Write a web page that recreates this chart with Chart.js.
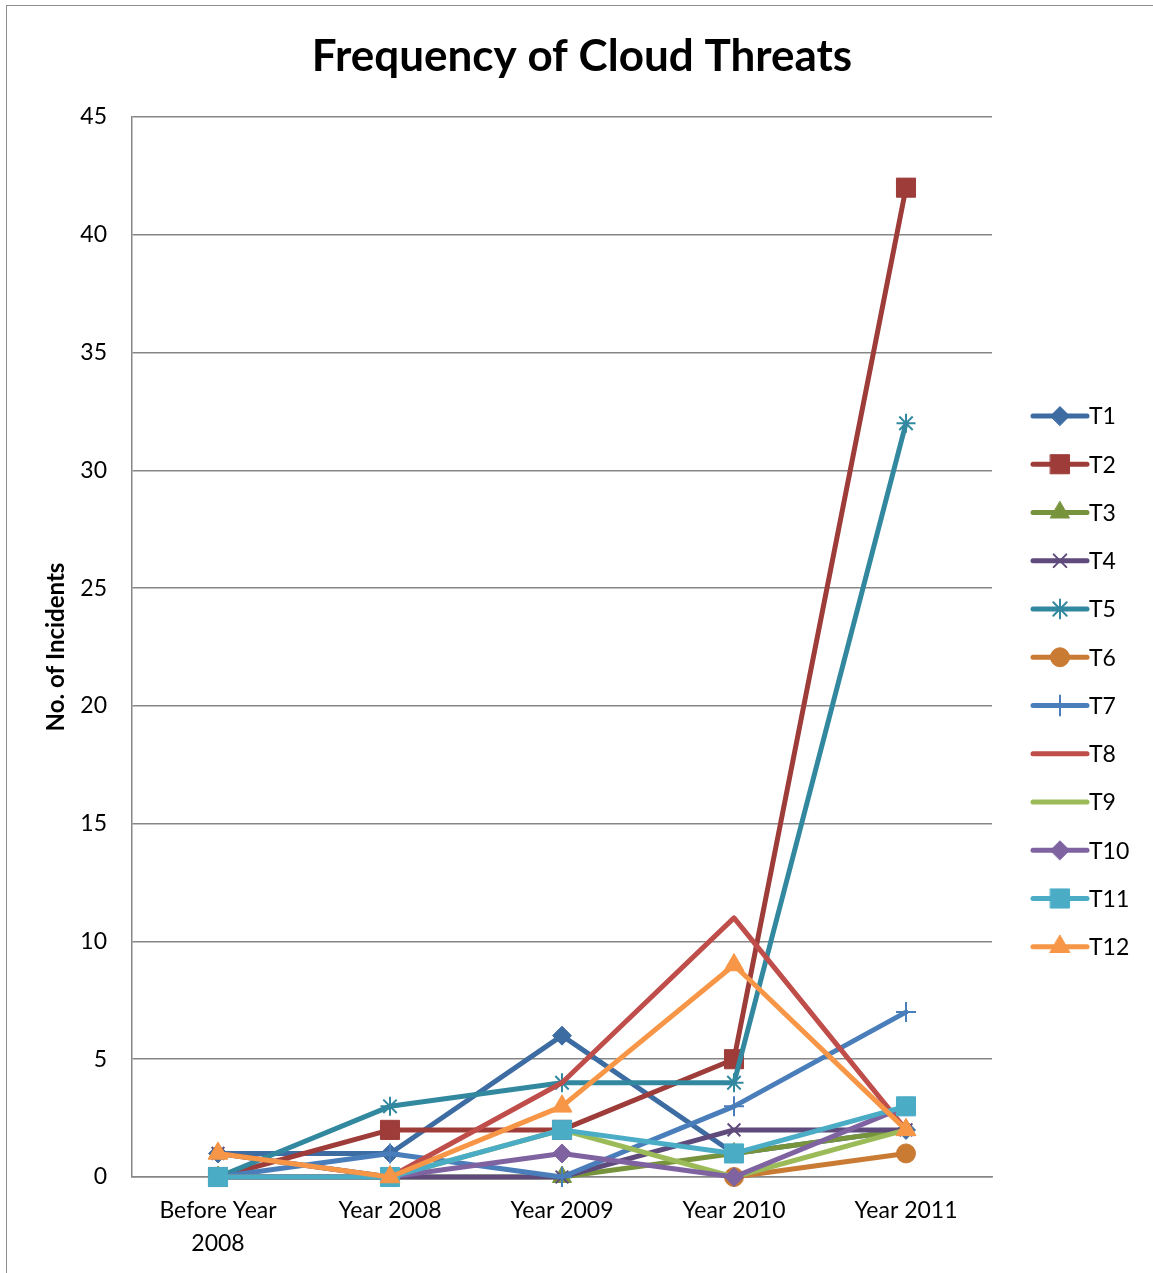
<!DOCTYPE html>
<html>
<head>
<meta charset="utf-8">
<title>Frequency of Cloud Threats</title>
<script src="https://cdn.jsdelivr.net/npm/chart.js@4.4.1/dist/chart.umd.min.js"></script>
<style>
  html, body { margin: 0; padding: 0; background: #ffffff; }
  #wrap { position: relative; width: 1153px; height: 1273px; overflow: hidden; }
  #frame { position: absolute; left: 6px; top: 5px; width: 1200px; height: 1320px;
           border: 1px solid #8e8e8e; box-sizing: border-box; pointer-events: none; }
  canvas { position: absolute; left: 0; top: 0; }
</style>
</head>
<body>
<div id="wrap">
  <canvas id="chart" width="1153" height="1273"></canvas>
  <div id="frame"></div>
</div>
<script>
// Categories along the x axis (multi-line label for the first one)
const categories = [['Before Year', '2008'], 'Year 2008', 'Year 2009', 'Year 2010', 'Year 2011'];

// Incidents per threat per period (null = no entry for that period)
const seriesNames = ['T1', 'T2', 'T3', 'T4', 'T5', 'T6', 'T7', 'T8', 'T9', 'T10', 'T11', 'T12'];
const t1  = [1, 1, 6, 1, 2];
const t2  = [0, 2, 2, 5, 42];
const t3  = [0, 0, 0, 1, 2];
const t4  = [1, 0, 0, 2, 2];
const t5  = [0, 3, 4, 4, 32];
const t6  = [null, null, null, 0, 1];
const t7  = [0, 1, 0, 3, 7];
const t8  = [0, 0, 4, 11, 2];
const t9  = [0, 0, 2, 0, 2];
const t10 = [0, 0, 1, 0, 3];
const t11 = [0, 0, 2, 1, 3];
const t12 = [1, 0, 3, 9, 2];
const seriesValues = [t1, t2, t3, t4, t5, t6, t7, t8, t9, t10, t11, t12];

// Y axis range
const yMin = 0;
const yMax = 45;
const yStep = 5;

// Styling per series
const colors = ['#3d6ca2', '#9d3c39', '#77943d', '#5f4a7c', '#32899f', '#c97a33',
                '#4a7ebb', '#bf4d4a', '#9bbb59', '#7f63a1', '#4bacc6', '#f79646'];
const markers = [
  { style: 'rectRot',  r: 9.5,  bw: 1 },
  { style: 'rect',     r: 13.5, bw: 1 },
  { style: 'triangle', r: 11,   bw: 1 },
  { style: 'crossRot', r: 9,    bw: 2 },
  { style: 'star',     r: 9.5,  bw: 2 },
  { style: 'circle',   r: 9.5,  bw: 1 },
  { style: 'cross',    r: 10,   bw: 2 },
  { style: false,      r: 0,    bw: 0 },
  { style: false,      r: 0,    bw: 0 },
  { style: 'rectRot',  r: 9.5,  bw: 1 },
  { style: 'rect',     r: 13.5, bw: 1 },
  { style: 'triangle', r: 11.5, bw: 1 }
];

const FONT = 'Lato, Carlito, "Liberation Sans", sans-serif';
const LABEL_SIZE = 23;
const LINE_W = 5;

const datasets = seriesNames.map((name, i) => ({
  label: name,
  data: seriesValues[i],
  borderColor: colors[i],
  backgroundColor: colors[i],
  borderWidth: LINE_W,
  borderJoinStyle: 'round',
  borderCapStyle: 'round',
  tension: 0,
  spanGaps: false,
  pointStyle: markers[i].style || 'circle',
  pointRadius: markers[i].r,
  pointHoverRadius: markers[i].r,
  pointBorderWidth: markers[i].bw,
  pointBorderColor: colors[i],
  pointBackgroundColor: colors[i],
  clip: false,
  order: seriesNames.length - i
}));

// Legend with a line segment plus the series marker, stacked to the right of the plot
const sideLegend = {
  id: 'sideLegend',
  afterDraw(chart) {
    const ctx = chart.ctx;
    const area = chart.chartArea;
    const x0 = area.right + 41;
    const x1 = area.right + 95;
    const xm = (x0 + x1) / 2;
    const yStart = area.top + 299;
    const rowGap = 48.25;
    ctx.save();
    chart.data.datasets.forEach((ds, i) => {
      const y = yStart + i * rowGap;
      ctx.strokeStyle = ds.borderColor;
      ctx.lineWidth = LINE_W;
      ctx.lineCap = 'round';
      ctx.beginPath();
      ctx.moveTo(x0, y);
      ctx.lineTo(x1, y);
      ctx.stroke();
      if (markers[i].style) {
        ctx.fillStyle = ds.pointBackgroundColor;
        ctx.strokeStyle = ds.pointBorderColor;
        ctx.lineWidth = markers[i].bw;
        Chart.helpers.drawPoint(ctx, {
          pointStyle: markers[i].style,
          radius: markers[i].r,
          rotation: 0,
          borderWidth: markers[i].bw
        }, xm, y);
      }
      ctx.fillStyle = '#000000';
      ctx.font = LABEL_SIZE + 'px ' + FONT;
      ctx.textBaseline = 'middle';
      ctx.textAlign = 'left';
      ctx.fillText(ds.label, x1 + 2, y + 1);
    });
    ctx.restore();
  }
};

new Chart(document.getElementById('chart'), {
  type: 'line',
  data: { labels: categories, datasets: datasets },
  options: {
    responsive: false,
    animation: false,
    events: [],
    layout: { padding: { left: 11, right: 0, top: 0, bottom: 0 } },
    plugins: {
      legend: { display: false },
      tooltip: { enabled: false },
      title: {
        display: true,
        text: 'Frequency of Cloud Threats',
        color: '#000000',
        font: { family: FONT, size: 44, weight: 'bold', lineHeight: 1.2 },
        padding: { top: 30.5, bottom: 33.7 }
      }
    },
    scales: {
      x: {
        offset: true,
        grid: { display: false, drawTicks: false },
        border: { display: true, color: '#868686', width: 1.5 },
        ticks: {
          color: '#000000',
          font: { family: FONT, size: LABEL_SIZE, lineHeight: 1.43 },
          padding: 17,
          maxRotation: 0,
          autoSkip: false
        },
        afterFit(scale) { scale.height = 96; }
      },
      y: {
        min: yMin,
        max: yMax,
        ticks: {
          stepSize: yStep,
          color: '#000000',
          font: { family: FONT, size: LABEL_SIZE },
          padding: 25
        },
        grid: { color: '#868686', lineWidth: 1.5, drawTicks: false },
        border: { display: true, color: '#868686', width: 1.5 },
        title: {
          display: true,
          text: 'No. of Incidents',
          color: '#000000',
          font: { family: FONT, size: 24, weight: 'bold', lineHeight: 1.2 },
          padding: { top: 31, bottom: 0 }
        },
        afterFit(scale) { scale.width = 121; }
      },
      // Empty right-hand strip that holds the legend
      legendSpace: {
        type: 'linear',
        position: 'right',
        min: yMin,
        max: yMax,
        ticks: { display: false },
        grid: { display: false, drawTicks: false },
        border: { display: false },
        afterFit(scale) { scale.width = 161; }
      }
    }
  },
  plugins: [sideLegend]
});
</script>
</body>
</html>
